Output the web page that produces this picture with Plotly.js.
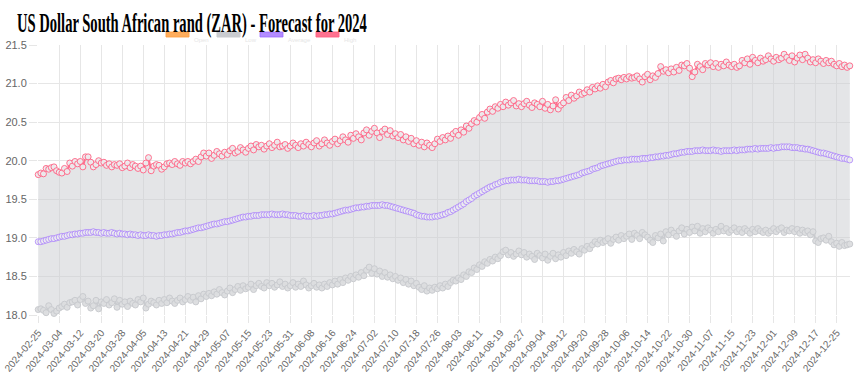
<!DOCTYPE html>
<html>
<head>
<meta charset="utf-8">
<script src="https://cdn.plot.ly/plotly-3.0.1.min.js"></script>
<style>
  html, body { margin: 0; padding: 0; background: #ffffff; overflow: hidden; }
  #chart { width: 859px; height: 386px; }
</style>
</head>
<body>
<div id="chart"></div>
<script>
// ---------- DATA ----------
const chartTitle = "US Dollar South African rand (ZAR) - Forecast for 2024";
const seriesNames = ["Open", "Low", "Average", "High"];
const startDate = "2024-02-25";

const tickLabels = ["2024-02-25","2024-03-04","2024-03-12","2024-03-20","2024-03-28","2024-04-05","2024-04-13","2024-04-21","2024-04-29","2024-05-07","2024-05-15","2024-05-23","2024-05-31","2024-06-08","2024-06-16","2024-06-24","2024-07-02","2024-07-10","2024-07-18","2024-07-26","2024-08-03","2024-08-11","2024-08-19","2024-08-27","2024-09-04","2024-09-12","2024-09-20","2024-09-28","2024-10-06","2024-10-14","2024-10-22","2024-10-30","2024-11-07","2024-11-15","2024-11-23","2024-12-01","2024-12-09","2024-12-17","2024-12-25"];

const yTicks = [18.0, 18.5, 19.0, 19.5, 20.0, 20.5, 21.0, 21.5];

const highValues = [
19.82,19.84,19.83,19.90,19.89,19.91,19.92,19.87,
19.85,19.84,19.90,19.86,19.97,19.93,19.99,19.96,
19.99,19.92,20.05,20.05,19.98,19.92,19.95,20.00,
19.97,19.98,19.94,19.96,19.92,19.95,19.94,19.96,
19.91,19.93,19.97,19.91,19.95,19.93,19.90,19.93,
19.88,19.97,20.04,19.87,19.93,19.95,19.94,19.89,
19.92,19.96,19.97,19.95,19.99,19.96,19.94,19.99,
19.97,19.99,19.96,19.99,20.02,19.99,20.05,20.10,
20.06,20.10,20.03,20.07,20.12,20.09,20.06,20.11,
20.08,20.13,20.16,20.10,20.12,20.17,20.14,20.11,
20.16,20.19,20.14,20.21,20.18,20.20,20.15,20.19,
20.22,20.17,20.20,20.24,20.18,20.19,20.21,20.16,
20.19,20.23,20.20,20.17,20.22,20.19,20.24,20.21,
20.18,20.23,20.26,20.19,20.22,20.27,20.23,20.20,
20.25,20.28,20.22,20.26,20.31,20.27,20.24,20.33,
20.29,20.35,20.31,20.27,20.36,20.40,20.33,20.38,
20.42,20.36,20.30,20.38,20.41,20.34,20.39,20.32,
20.35,20.30,20.34,20.27,20.31,20.25,20.29,20.22,
20.26,20.20,20.24,20.18,20.23,20.20,20.17,20.22,
20.28,20.25,20.30,20.27,20.32,20.29,20.35,20.38,
20.33,20.40,20.37,20.45,20.42,20.48,20.52,20.50,
20.56,20.60,20.55,20.63,20.67,20.64,20.70,20.68,
20.73,20.70,20.76,20.72,20.75,20.78,20.71,20.74,
20.70,20.74,20.77,20.72,20.69,20.75,20.73,20.70,
20.77,20.68,20.73,20.66,20.71,20.79,20.67,20.72,
20.75,20.82,20.78,20.85,20.81,20.84,20.89,20.86,
20.88,20.92,20.89,20.95,20.93,20.97,20.94,20.99,
20.96,21.02,21.04,21.01,21.06,21.07,21.05,21.08,
21.06,21.09,21.07,21.08,21.10,21.06,21.02,21.09,
21.12,21.05,21.10,21.08,21.13,21.22,21.16,21.18,
21.14,21.19,21.15,21.21,21.17,21.24,21.23,21.26,
21.20,21.09,21.15,21.25,21.22,21.18,21.26,21.24,
21.27,21.22,21.26,21.21,21.25,21.23,21.28,21.24,
21.22,21.25,21.21,21.23,21.30,21.27,21.32,21.25,
21.34,21.30,21.27,21.33,21.29,21.31,21.36,21.32,
21.29,21.34,21.31,21.33,21.38,21.34,21.30,21.36,
21.28,21.33,21.37,21.31,21.38,21.33,21.28,21.31,
21.27,21.32,21.29,21.26,21.30,21.27,21.29,21.25,
21.23,21.26,21.22,21.24,21.21,21.23
];

const averageValues = [
18.95,18.95,18.96,18.97,18.98,18.99,18.99,19.00,
19.01,19.02,19.02,19.03,19.04,19.04,19.05,19.05,
19.06,19.06,19.07,19.07,19.07,19.08,19.07,19.07,
19.06,19.07,19.06,19.06,19.07,19.06,19.05,19.06,
19.05,19.05,19.04,19.05,19.04,19.04,19.03,19.04,
19.03,19.03,19.04,19.03,19.03,19.02,19.03,19.03,
19.04,19.04,19.05,19.05,19.06,19.07,19.07,19.08,
19.09,19.09,19.10,19.11,19.12,19.13,19.13,19.14,
19.15,19.16,19.17,19.18,19.18,19.19,19.20,19.21,
19.21,19.22,19.23,19.24,19.25,19.26,19.27,19.27,
19.28,19.28,19.29,19.29,19.29,19.30,19.30,19.30,
19.30,19.31,19.30,19.30,19.30,19.31,19.30,19.30,
19.29,19.29,19.29,19.28,19.28,19.29,19.28,19.28,
19.28,19.29,19.28,19.29,19.29,19.30,19.30,19.31,
19.31,19.32,19.33,19.34,19.35,19.36,19.36,19.37,
19.38,19.39,19.39,19.40,19.40,19.41,19.41,19.42,
19.42,19.42,19.42,19.43,19.42,19.42,19.41,19.40,
19.39,19.38,19.37,19.36,19.35,19.34,19.33,19.32,
19.30,19.29,19.28,19.28,19.27,19.27,19.27,19.28,
19.28,19.29,19.30,19.31,19.33,19.34,19.36,19.38,
19.40,19.42,19.44,19.47,19.49,19.51,19.54,19.56,
19.58,19.60,19.62,19.64,19.66,19.67,19.69,19.70,
19.72,19.73,19.74,19.74,19.75,19.75,19.75,19.76,
19.75,19.75,19.75,19.74,19.74,19.74,19.74,19.73,
19.73,19.73,19.72,19.73,19.73,19.74,19.74,19.75,
19.76,19.77,19.78,19.79,19.80,19.81,19.82,19.84,
19.85,19.86,19.87,19.89,19.90,19.91,19.93,19.94,
19.95,19.96,19.97,19.98,19.99,20.00,20.00,20.01,
20.01,20.01,20.02,20.02,20.02,20.02,20.03,20.03,
20.03,20.04,20.04,20.05,20.05,20.06,20.06,20.07,
20.07,20.08,20.09,20.09,20.10,20.11,20.11,20.12,
20.12,20.12,20.13,20.13,20.13,20.14,20.13,20.13,
20.13,20.14,20.13,20.13,20.12,20.13,20.13,20.13,
20.13,20.14,20.13,20.14,20.14,20.14,20.15,20.15,
20.15,20.16,20.15,20.16,20.16,20.16,20.16,20.17,
20.16,20.17,20.17,20.18,20.18,20.18,20.18,20.17,
20.17,20.17,20.16,20.16,20.15,20.15,20.14,20.13,
20.12,20.11,20.10,20.10,20.09,20.08,20.07,20.06,
20.05,20.04,20.03,20.03,20.02,20.01
];

const lowValues = [
18.07,18.08,18.06,18.03,18.12,18.07,18.02,18.05,
18.09,18.11,18.14,18.10,18.16,18.17,18.19,18.13,
18.20,18.24,18.15,18.18,18.09,18.12,18.19,18.08,
18.17,18.15,18.20,18.13,18.16,18.21,18.10,18.19,
18.14,18.17,18.11,18.18,18.15,18.13,18.20,18.17,
18.22,18.09,18.14,18.18,18.16,18.13,18.19,18.15,
18.20,18.16,18.22,18.18,18.15,18.19,18.22,18.17,
18.20,18.24,18.19,18.23,18.17,18.25,18.21,18.27,
18.24,18.28,18.25,18.30,18.27,18.33,18.29,18.26,
18.31,18.35,18.29,18.33,18.37,18.32,18.38,18.34,
18.36,18.40,18.33,18.38,18.41,18.37,18.35,18.42,
18.38,18.41,18.36,18.39,18.43,18.37,18.40,18.35,
18.38,18.42,18.36,18.40,18.37,18.44,18.39,18.35,
18.38,18.41,18.36,18.39,18.35,18.40,18.37,18.42,
18.39,18.44,18.40,18.46,18.42,18.48,18.45,18.50,
18.47,18.52,18.49,18.55,18.51,18.58,18.62,18.54,
18.60,18.53,18.57,18.50,18.55,18.49,18.52,18.47,
18.50,18.45,18.48,18.42,18.46,18.40,18.44,18.38,
18.41,18.36,18.33,18.38,18.31,18.35,18.32,18.36,
18.34,18.38,18.35,18.40,18.37,18.42,18.45,18.44,
18.48,18.46,18.52,18.50,18.56,18.55,18.61,18.59,
18.65,18.63,18.69,18.67,18.72,18.70,18.75,18.73,
18.77,18.82,18.84,18.78,18.81,18.76,18.79,18.83,
18.78,18.81,18.75,18.79,18.76,18.72,18.80,18.77,
18.74,18.79,18.71,18.76,18.80,18.73,18.78,18.75,
18.81,18.77,18.83,18.80,18.85,18.82,18.79,18.86,
18.84,18.89,18.86,18.91,18.95,18.92,18.97,18.94,
18.96,18.99,18.93,18.98,19.01,18.97,19.03,18.99,
19.02,19.05,18.98,19.06,19.03,18.99,19.07,19.04,
19.01,18.97,18.94,19.03,19.00,19.05,18.96,19.08,
19.04,19.10,19.06,19.02,19.09,19.13,19.05,19.11,
19.07,19.14,19.09,19.15,19.06,19.12,19.08,19.13,
19.10,19.06,19.11,19.08,19.15,19.09,19.12,19.07,
19.10,19.13,19.08,19.11,19.07,19.12,19.09,19.06,
19.11,19.08,19.12,19.09,19.07,19.10,19.06,19.09,
19.12,19.08,19.11,19.13,19.07,19.10,19.09,19.12,
19.08,19.11,19.06,19.10,19.07,19.09,19.04,19.08,
18.96,18.94,18.99,19.00,18.97,19.02,18.95,18.91,
18.93,18.89,18.94,18.90,18.91,18.92
];

// consecutive daily dates (one label per point)
const dates = [];
(function () {
  const d0 = new Date(startDate + "T00:00:00Z");
  for (let i = 0; i < highValues.length; i++) {
    const d = new Date(d0.getTime() + i * 86400000);
    dates.push(d.toISOString().slice(0, 10));
  }
})();

// ---------- STYLE ----------
const C = {
  orange: "rgba(255,159,64,0.85)",
  gray: "rgb(201,203,207)",
  purple: "rgba(153,102,255,0.6)",
  pink: "rgba(255,99,132,0.9)",
  fill: "rgba(201,203,207,0.5)",
  grid: "#e6e6e6",
  text: "#666666"
};
const markerFill = "rgba(236,236,238,0.95)";

const traces = [
  {
    x: dates, y: lowValues, name: seriesNames[1], type: "scatter", mode: "lines+markers",
    line: { color: C.gray, width: 2 },
    marker: { size: 6, color: "rgba(220,221,223,0.95)", line: { color: C.gray, width: 1 } },
    cliponaxis: false, showlegend: false
  },
  {
    x: dates, y: highValues, name: seriesNames[3], type: "scatter", mode: "lines+markers",
    fill: "tonexty", fillcolor: C.fill,
    line: { color: C.pink, width: 2 },
    marker: { size: 6, color: markerFill, line: { color: C.pink, width: 1 } },
    cliponaxis: false, showlegend: false
  },
  {
    x: dates, y: averageValues, name: seriesNames[2], type: "scatter", mode: "lines+markers",
    line: { color: C.purple, width: 2 },
    marker: { size: 6, color: markerFill, line: { color: C.purple, width: 1 } },
    cliponaxis: false, showlegend: false
  }
];

// plot box in pixels
const L = 38, R = 9, T = 45, B = 71;
const W = 859, H = 386;
const pw = W - L - R, ph = H - T - B;
const px = v => (v - L) / pw;
const py = v => (H - B - v) / ph;

// custom legend (boxes + faint labels)
const legendBoxes = [
  { x0: 166, x1: 189, color: C.orange, label: seriesNames[0] },
  { x0: 217, x1: 240, color: C.gray, label: seriesNames[1] },
  { x0: 260, x1: 283, color: "rgba(153,102,255,0.75)", label: seriesNames[2] },
  { x0: 316, x1: 339, color: C.pink, label: seriesNames[3] }
];
const shapes = legendBoxes.map(b => ({
  type: "rect", xref: "paper", yref: "paper",
  x0: px(b.x0), x1: px(b.x1), y0: py(37), y1: py(32),
  fillcolor: b.color, line: { color: b.color, width: 1 }, layer: "above"
}));
const annotations = legendBoxes.map(b => ({
  xref: "paper", yref: "paper", x: px(b.x1 + 3), y: py(40),
  xanchor: "left", yanchor: "middle", showarrow: false,
  text: b.label, font: { family: "Liberation Sans, Arial", size: 6, color: "#e6e6e6" }
}));

const layout = {
  width: W, height: H,
  margin: { l: L, r: R, t: T, b: B, pad: 0 },
  paper_bgcolor: "#ffffff", plot_bgcolor: "#ffffff",
  showlegend: false,
  title: {
    text: "<b>" + chartTitle + "</b>",
    font: { family: "Liberation Serif, Times New Roman, serif", size: 27, color: "#000000" },
    xref: "container", yref: "container",
    x: 17 / W, xanchor: "left",
    y: 1 - 23 / H, yanchor: "middle"
  },
  xaxis: {
    type: "date",
    range: ["2024-02-24 22:00", "2024-12-30 02:00"],
    tickmode: "array", tickvals: tickLabels, ticktext: tickLabels,
    tickangle: -50,
    ticklabeloverflow: "allow",
    tickfont: { family: "Liberation Sans, Arial", size: 10, color: C.text },
    showgrid: true, gridcolor: C.grid, gridwidth: 1,
    showline: false,
    ticks: "outside", ticklen: 7, tickcolor: C.grid,
    zeroline: false, fixedrange: true
  },
  yaxis: {
    range: [18.0, 21.5],
    tickmode: "array", tickvals: yTicks, ticktext: yTicks.map(v => v.toFixed(1)),
    tickfont: { family: "Liberation Sans, Arial", size: 11, color: C.text },
    showgrid: true, gridcolor: C.grid, gridwidth: 1,
    showline: false,
    ticks: "outside", ticklen: 8, tickcolor: C.grid,
    zeroline: false, fixedrange: true
  },
  shapes: shapes,
  annotations: annotations
};

Plotly.newPlot("chart", traces, layout, { displayModeBar: false, staticPlot: true }).then(function () {
  // condense the title horizontally to match the narrow title face of the reference
  const t = document.querySelector(".gtitle");
  if (t) {
    const bb = t.getBBox();
    const s = 350 / bb.width;
    t.setAttribute("transform", "translate(" + (17 - bb.x * s) + ",0) scale(" + s + ",1)");
  }
});
</script>
</body>
</html>
